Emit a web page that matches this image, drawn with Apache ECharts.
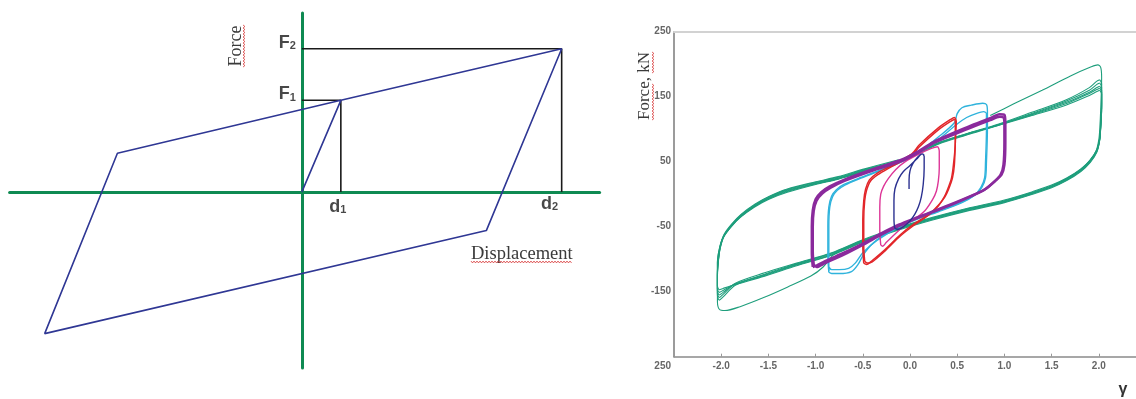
<!DOCTYPE html>
<html><head><meta charset="utf-8">
<script src="https://cdn.jsdelivr.net/npm/echarts@6/dist/echarts.min.js"></script>
<style>html,body{margin:0;padding:0;background:#fff}#c{width:1136px;height:399px}</style>
</head><body><div id="c"></div>
<script>
// ---------- Left: bilinear schematic (normalised units: d2 = 1, F2 = 1) ----------
const schematicLoop = [[0,0],[0.15,0.64],[1,1],[0.71,-0.27],[-0.99,-0.99],[-0.71,0.27],[0.15,0.64]];
const refLineF2 = [[0,1],[1,1],[1,0]];
const refLineF1 = [[0,0.64],[0.15,0.64],[0.15,0]];
const markerNames = ['F','F','d','d'];
const markerSubs = ['2','1','1','2'];
const markerPoints = [[0,1],[0,0.64],[0.15,0],[1,0]];

// ---------- Right: hysteresis loops, force (kN) vs shear strain γ ----------
const xTickValues = [-2.5,-2,-1.5,-1,-0.5,0,0.5,1,1.5,2,2.5];
const xTickLabels = ['','-2.0','-1.5','-1.0','-0.5','0.0','0.5','1.0','1.5','2.0','2.5'];
const yTickValues = [250,150,50,-50,-150,-250];
const yTickLabels = ['250','150','50','-50','-150','250'];

const greenCycle1 = [[0.85,121],[1.1,139],[1.4,160],[1.7,182],[1.92,196],[1.99,199],[2.02,195],[2.03,180],[2.02,130],[2.01,100],[2.0,84],[1.97,66],[1.9,51],[1.8,37],[1.65,23],[1.5,12],[1.3,2],[1.0,-11],[0.6,-24],[0.23,-38],[-0.12,-53],[-0.5,-72],[-0.8,-92],[-0.92,-112],[-1.05,-126],[-1.3,-143],[-1.55,-159],[-1.8,-173],[-1.96,-179],[-2.02,-177],[-2.04,-165],[-2.04,-130],[-2.04,-105],[-2.02,-84],[-1.98,-66],[-1.9,-50],[-1.8,-35],[-1.65,-19],[-1.5,-7],[-1.3,4],[-1.0,16],[-0.76,24],[-0.48,36],[-0.12,51],[0.09,64],[0.3,79],[0.6,93],[0.94,108],[1.29,126],[1.65,145],[1.9,164],[1.98,174],[2.01,176]];
const greenCycle2 = [[2.01,176],[2.03,170],[2.03,140],[2.02,105],[2.01,86],[1.98,68],[1.91,52],[1.81,38],[1.66,24],[1.5,13],[1.3,3],[1.0,-10],[0.6,-23],[0.23,-37],[-0.12,-52],[-0.5,-71],[-0.83,-91],[-1.2,-107],[-1.54,-123],[-1.85,-140],[-1.98,-158],[-2.02,-163],[-2.04,-155],[-2.04,-130],[-2.04,-106],[-2.02,-85],[-1.98,-67],[-1.9,-51],[-1.8,-36],[-1.65,-20],[-1.5,-8],[-1.3,3],[-1.0,15],[-0.76,23],[-0.48,35],[-0.12,50],[0.09,63],[0.3,78],[0.6,92],[0.94,107],[1.29,124],[1.65,143],[1.9,160],[1.98,169],[2.01,171]];
const greenCycle3 = [[2.01,171],[2.03,165],[2.03,140],[2.02,106],[2.01,87],[1.98,69],[1.91,53],[1.81,39],[1.66,25],[1.5,14],[1.3,4],[1.0,-9],[0.6,-22],[0.23,-36],[-0.12,-51],[-0.5,-70],[-0.83,-90],[-1.2,-106],[-1.54,-121],[-1.85,-137],[-1.98,-154],[-2.02,-159],[-2.04,-152],[-2.04,-128],[-2.03,-104],[-2.01,-83],[-1.97,-65],[-1.89,-49],[-1.79,-34],[-1.64,-18],[-1.49,-6],[-1.3,5],[-1.0,16],[-0.76,24],[-0.48,36],[-0.12,50],[0.09,62],[0.3,77],[0.6,91],[0.94,106],[1.29,123],[1.65,141],[1.9,157],[1.98,164],[2.01,166]];
const greenCycle4 = [[2.01,166],[2.03,160],[2.03,135],[2.02,104],[2.01,85],[1.98,67],[1.91,51],[1.81,37],[1.66,23],[1.5,12],[1.3,2],[1.0,-11],[0.6,-24],[0.23,-38],[-0.12,-53],[-0.5,-72],[-0.83,-92],[-1.2,-108],[-1.54,-124],[-1.85,-138],[-1.98,-151],[-2.02,-155],[-2.04,-148],[-2.04,-125],[-2.03,-102],[-2.01,-82],[-1.97,-64],[-1.89,-48],[-1.79,-33],[-1.64,-17],[-1.49,-5],[-1.3,6],[-1.0,17],[-0.76,25],[-0.48,37],[-0.12,51],[0.09,63],[0.3,78],[0.6,92],[0.94,107],[1.29,122],[1.65,139],[1.9,155],[1.98,161],[2.01,163]];
const greenCycle5 = [[2.01,163],[2.03,157],[2.03,132],[2.02,103],[2.01,84],[1.98,66],[1.91,50],[1.81,36],[1.66,22],[1.5,11],[1.3,1],[1.0,-12],[0.6,-25],[0.23,-39],[-0.12,-54],[-0.5,-73],[-0.83,-93],[-1.2,-109],[-1.54,-125],[-1.85,-138],[-1.98,-148],[-2.02,-151],[-2.04,-145],[-2.04,-123],[-2.03,-101],[-2.01,-81],[-1.97,-63],[-1.89,-47],[-1.79,-32],[-1.64,-16],[-1.49,-4],[-1.3,7],[-1.0,18],[-0.76,26],[-0.48,38],[-0.12,52],[0.09,64],[0.3,79],[0.6,93],[0.94,106],[1.29,121],[1.65,137],[1.9,152],[1.98,158],[2.01,160]];
const greenCycle6 = [[2.01,160],[2.03,154],[2.03,130],[2.02,102],[2.01,83],[1.98,65],[1.91,49],[1.81,35],[1.66,21],[1.5,10],[1.3,0],[1.0,-13],[0.6,-26],[0.23,-40],[-0.12,-55],[-0.5,-74],[-0.83,-94],[-1.2,-110],[-1.54,-126],[-1.85,-139],[-1.98,-145],[-2.02,-147],[-2.04,-141],[-2.04,-120],[-2.03,-100],[-2.01,-80],[-1.97,-62],[-1.89,-46],[-1.79,-31],[-1.64,-15],[-1.49,-3],[-1.3,8],[-1.0,19],[-0.76,27],[-0.48,39],[-0.12,53]];

const cyanCycle1 = [[-0.86,-120],[-0.87,-95],[-0.87,-50],[-0.86,-20],[-0.83,-3],[-0.78,7],[-0.7,15],[-0.55,24],[-0.3,38],[-0.1,50],[0.1,66],[0.3,88],[0.47,110],[0.5,124],[0.55,133],[0.65,137],[0.77,140],[0.81,138],[0.82,128],[0.82,100],[0.81,50],[0.8,25],[0.76,10],[0.69,-1],[0.55,-12],[0.3,-26],[0.1,-36],[-0.12,-50],[-0.35,-70],[-0.48,-90],[-0.55,-108],[-0.62,-119],[-0.75,-122],[-0.83,-122],[-0.86,-120]];
const cyanCycle2 = [[-0.86,-118],[-0.86,-90],[-0.86,-50],[-0.85,-20],[-0.82,-4],[-0.77,6],[-0.69,14],[-0.55,23],[-0.3,37],[-0.1,49],[0.1,64],[0.3,84],[0.5,108],[0.6,118],[0.7,124],[0.78,127],[0.81,124],[0.81,100],[0.8,50],[0.79,25],[0.75,10],[0.68,-2],[0.55,-13],[0.3,-27],[0.1,-37],[-0.12,-51],[-0.35,-71],[-0.5,-90],[-0.58,-106],[-0.65,-114],[-0.75,-116],[-0.83,-116],[-0.86,-112]];

const purpleCycle1 = [[-1.03,-112],[-1.04,-90],[-1.04,-50],[-1.03,-25],[-1.0,-8],[-0.94,3],[-0.85,12],[-0.7,22],[-0.44,36],[-0.09,53],[0.1,67],[0.27,82],[0.62,104],[0.85,117],[0.95,123],[1.0,122],[1.01,110],[1.01,80],[1.0,45],[0.97,30],[0.9,20],[0.8,8],[0.69,0],[0.41,-17],[0.09,-35],[-0.12,-47],[-0.3,-60],[-0.5,-76],[-0.7,-90],[-0.9,-103],[-0.99,-110],[-1.03,-112]];
const purpleCycle2 = [[-1.02,-108],[-1.03,-88],[-1.03,-50],[-1.02,-26],[-0.99,-10],[-0.93,1],[-0.84,10],[-0.7,20],[-0.44,34],[-0.09,51],[0.1,65],[0.27,80],[0.62,101],[0.85,114],[0.95,119],[0.99,118],[1.0,108],[1.0,80],[0.99,45],[0.96,30],[0.89,19],[0.79,7],[0.68,-1],[0.41,-18],[0.09,-36],[-0.12,-49],[-0.3,-62],[-0.5,-78],[-0.7,-93],[-0.9,-106],[-0.99,-112],[-1.02,-108]];

const redCycle1 = [[-0.49,-106],[-0.5,-80],[-0.5,-40],[-0.49,-10],[-0.47,8],[-0.43,22],[-0.35,32],[-0.2,44],[0.02,62],[0.1,76],[0.3,102],[0.43,115],[0.47,118],[0.49,112],[0.48,80],[0.47,45],[0.45,25],[0.41,8],[0.37,-4],[0.3,-17],[0.2,-31],[0.05,-45],[-0.1,-62],[-0.27,-86],[-0.4,-102],[-0.46,-108],[-0.49,-106]];
const redCycle2 = [[-0.48,-103],[-0.49,-80],[-0.49,-40],[-0.48,-10],[-0.46,6],[-0.42,20],[-0.34,30],[-0.2,42],[0.02,60],[0.1,73],[0.3,99],[0.43,112],[0.47,115],[0.48,110],[0.48,80],[0.46,45],[0.44,25],[0.4,8],[0.36,-5],[0.3,-18],[0.2,-32],[0.05,-47],[-0.1,-64],[-0.27,-88],[-0.4,-104],[-0.45,-106],[-0.48,-103]];

const magentaCycle = [[-0.31,-78],[-0.32,-55],[-0.32,-20],[-0.31,0],[-0.28,12],[-0.23,24],[-0.15,38],[-0.05,50],[0.1,62],[0.22,70],[0.29,73],[0.31,66],[0.31,40],[0.3,20],[0.28,5],[0.24,-8],[0.16,-25],[0.06,-37],[-0.05,-47],[-0.15,-60],[-0.25,-74],[-0.29,-80],[-0.31,-78]];
const navyCycle = [[-0.01,8],[-0.01,22],[0.0,36],[0.03,47],[0.08,57],[0.13,62],[0.15,58],[0.15,40],[0.14,15],[0.12,-4],[0.09,-19],[0.05,-31],[0.0,-41],[-0.06,-49],[-0.12,-54],[-0.16,-52],[-0.17,-35],[-0.17,-10],[-0.16,8],[-0.12,24],[-0.07,35],[0.0,44],[0.07,54],[0.13,62],[0.15,60]];

// ---------- styling ----------
const GREEN_AXIS = '#0f8a52', BLUE = '#2f3794';
const C_GREEN = '#1e9e7c', C_CYAN = '#2fb3dc', C_PURPLE = '#8a2a9c', C_RED = '#e2262a', C_MAG = '#dd3597', C_NAVY = '#2b3190';
const LABEL_FONT = '"Liberation Sans", Arial, sans-serif';
const SERIF = '"Liberation Serif", "Times New Roman", serif';

function wavy(x0, y0, x1, y1) { // decorative spell-check underline
  const pts = [], len = Math.hypot(x1 - x0, y1 - y0), n = Math.round(len / 1.5);
  const ux = (x1 - x0) / len, uy = (y1 - y0) / len;
  for (let i = 0; i <= n; i++) {
    const t = i * 1.5, s = (i % 2 ? 1 : -1) * 0.9;
    pts.push([x0 + ux * t - uy * s, y0 + uy * t + ux * s]);
  }
  return { type: 'polyline', shape: { points: pts }, style: { stroke: '#d42a2a', lineWidth: 0.8, fill: null }, silent: true };
}

function loopSeries(data, color, width) {
  return { type: 'line', xAxisIndex: 1, yAxisIndex: 1, data: data, showSymbol: false, smooth: 0.3,
           lineStyle: { color: color, width: width }, silent: true };
}

const chart = echarts.init(document.getElementById('c'), null, { renderer: 'canvas' });
const hidden = { axisLabel: { show: false }, axisTick: { show: false }, splitLine: { show: false } };

chart.setOption({
  animation: false,
  backgroundColor: '#fff',
  grid: [
    { left: 9.6, top: 13, width: 590, height: 355, outerBoundsMode: 'none', containLabel: false },
    { left: 674, top: 31.7, width: 472, height: 325, outerBoundsMode: 'none', containLabel: false }
  ],
  xAxis: [
    Object.assign({ type: 'value', gridIndex: 0, min: -1.125, max: 1.146,
      axisLine: { onZero: true, lineStyle: { color: GREEN_AXIS, width: 3 } } }, hidden),
    { type: 'value', gridIndex: 1, min: -2.5, max: 2.5, interval: 0.5,
      axisLine: { onZero: false, lineStyle: { color: '#8a8a8a', width: 1.5 } },
      axisTick: { show: true, inside: true, length: 3, lineStyle: { color: '#999' } },
      splitLine: { show: false },
      axisLabel: { margin: 5, fontSize: 10, fontWeight: 'bold', color: '#666', fontFamily: LABEL_FONT,
        formatter: v => { const i = xTickValues.findIndex(t => Math.abs(t - v) < 1e-6); return i < 0 ? '' : xTickLabels[i]; } } },
    Object.assign({ type: 'value', gridIndex: 1, position: 'top', min: -2.5, max: 2.5,
      axisLine: { onZero: false, lineStyle: { color: '#d2d2d2', width: 2 } } }, hidden)
  ],
  yAxis: [
    Object.assign({ type: 'value', gridIndex: 0, min: -1.23, max: 1.25,
      axisLine: { onZero: true, lineStyle: { color: GREEN_AXIS, width: 3 } } }, hidden),
    { type: 'value', gridIndex: 1, min: -250, max: 250, interval: 50,
      axisLine: { onZero: false, lineStyle: { color: '#7a7a7a', width: 1.5 } },
      axisTick: { show: false }, splitLine: { show: false },
      axisLabel: { margin: 3, fontSize: 10, fontWeight: 'bold', color: '#666', fontFamily: LABEL_FONT,
        rich: { low: { padding: [20, 0, 0, 0], fontSize: 10, fontWeight: 'bold', color: '#666', fontFamily: LABEL_FONT } },
        formatter: v => {
          const i = yTickValues.indexOf(v);
          if (i < 0) return '';
          return v === -250 ? '{low|' + yTickLabels[i] + '}' : yTickLabels[i];
        } } }
  ],
  series: [
    { type: 'line', xAxisIndex: 0, yAxisIndex: 0, data: refLineF2, showSymbol: false, lineStyle: { color: '#1a1a1a', width: 1.6 }, silent: true },
    { type: 'line', xAxisIndex: 0, yAxisIndex: 0, data: refLineF1, showSymbol: false, lineStyle: { color: '#1a1a1a', width: 1.6 }, silent: true },
    { type: 'line', xAxisIndex: 0, yAxisIndex: 0, data: schematicLoop, showSymbol: false, lineStyle: { color: BLUE, width: 1.6 }, silent: true },
    { type: 'scatter', xAxisIndex: 0, yAxisIndex: 0, symbolSize: 0, silent: true,
      data: markerPoints.map((p, i) => {
        const isF = markerNames[i] === 'F';
        const off = [[0, -6], [0, -6], [-3, 1], [-12, -2]][i];
        return { value: p, label: { show: true, position: isF ? 'left' : 'bottom', distance: isF ? 6 : 5, offset: off,
          formatter: '{a|' + markerNames[i] + '}{s|' + markerSubs[i] + '}',
          rich: { a: { fontSize: 18, fontWeight: 'bold', color: '#1a1a1a', fontFamily: LABEL_FONT },
                  s: { fontSize: 11, fontWeight: 'bold', color: '#1a1a1a', fontFamily: LABEL_FONT, padding: [7, 0, 0, 0] } } } };
      }) },
    loopSeries(greenCycle1, C_GREEN, 1.1),
    loopSeries(greenCycle2, C_GREEN, 1.1),
    loopSeries(greenCycle3, C_GREEN, 1.1),
    loopSeries(greenCycle4, C_GREEN, 1.1),
    loopSeries(greenCycle5, C_GREEN, 1.1),
    loopSeries(greenCycle6, C_GREEN, 1.1),
    loopSeries(cyanCycle1, C_CYAN, 1.4),
    loopSeries(cyanCycle2, C_CYAN, 1.4),
    loopSeries(redCycle1, C_RED, 1.5),
    loopSeries(redCycle2, C_RED, 1.5),
    loopSeries(magentaCycle, C_MAG, 1.4),
    loopSeries(purpleCycle1, C_PURPLE, 2.5),
    loopSeries(purpleCycle2, C_PURPLE, 2.5),
    loopSeries(navyCycle, C_NAVY, 1.4)
  ],
  graphic: [
    { type: 'text', x: 236, y: 46, rotation: Math.PI / 2, silent: true,
      style: { text: 'Force', font: '18px ' + SERIF, fill: '#3a3a3a', align: 'center', verticalAlign: 'middle' } },
    wavy(244, 67, 244, 25),
    { type: 'text', x: 471, y: 254, silent: true,
      style: { text: 'Displacement', font: '18.5px ' + SERIF, fill: '#3a3a3a', align: 'left', verticalAlign: 'middle' } },
    wavy(471, 262, 572, 262),
    { type: 'text', x: 645, y: 86, rotation: Math.PI / 2, silent: true,
      style: { text: 'Force, kN', font: '17px ' + SERIF, fill: '#3a3a3a', align: 'center', verticalAlign: 'middle' } },
    wavy(653, 120, 653, 84),
    wavy(653, 73, 653, 52),
    { type: 'text', x: 1123, y: 390, silent: true,
      style: { text: 'γ', font: 'bold 16px ' + LABEL_FONT, fill: '#333', align: 'center', verticalAlign: 'middle' } }
  ]
});
</script>
</body></html>
